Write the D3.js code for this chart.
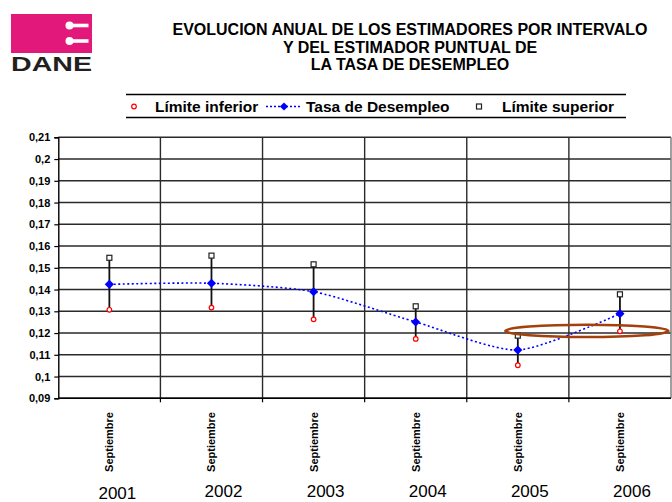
<!DOCTYPE html>
<html>
<head>
<meta charset="utf-8">
<script src="https://cdn.jsdelivr.net/npm/d3@7"></script>
<style>
  body { margin: 0; background: #fff; }
  svg { display: block; font-family: "Liberation Sans", Arial, sans-serif; }
</style>
</head>
<body>
<svg id="chart" width="672" height="502"></svg>
<script>
// DATA
const years = ["2001", "2002", "2003", "2004", "2005", "2006"];
const periodLabel = "Septiembre";
const lowerValues = [0.1307, 0.1317, 0.1263, 0.1173, 0.1052, 0.1208];
const rateValues  = [0.1424, 0.1429, 0.1390, 0.1251, 0.1122, 0.1289];
const upperValues = [0.1546, 0.1556, 0.1516, 0.1323, 0.1188, 0.1378];
const yTicks = [0.09, 0.1, 0.11, 0.12, 0.13, 0.14, 0.15, 0.16, 0.17, 0.18, 0.19, 0.2, 0.21];
const titleLines = [
  "EVOLUCION ANUAL DE LOS ESTIMADORES POR INTERVALO",
  "Y DEL ESTIMADOR PUNTUAL DE",
  "LA TASA DE DESEMPLEO"
];
const legendLabels = ["Límite inferior", "Tasa de Desempleo", "Límite superior"];

const rows = years.map((yr, i) => ({
  year: yr, lower: lowerValues[i], rate: rateValues[i], upper: upperValues[i]
}));

// SETUP
const svg = d3.select("#chart");
const plot = { left: 58.3, right: 671, top: 137.3, bottom: 398.3 };

const x = d3.scaleBand().domain(years).range([plot.left, plot.right]).padding(0);
const xc = d => x(d) + x.bandwidth() / 2;
const y = d3.scaleLinear().domain([0.09, 0.21]).range([plot.bottom, plot.top]);

const es = d3.formatLocale({ decimal: ",", thousands: ".", grouping: [3], currency: ["$", ""] });
const fmt = es.format(".2~f");

// LOGO
const logo = svg.append("g");
logo.append("rect").attr("x", 11).attr("y", 14).attr("width", 81).attr("height", 39).attr("fill", "#e2187b");
[25.5, 41].forEach(cy => {
  logo.append("circle").attr("cx", 69.5).attr("cy", cy).attr("r", 4).attr("fill", "#fff");
  logo.append("rect").attr("x", 69.5).attr("y", cy - 1.8).attr("width", 19).attr("height", 3.6).attr("fill", "#fff");
});
logo.append("text")
  .attr("x", 11).attr("y", 70.5)
  .attr("textLength", 81).attr("lengthAdjust", "spacingAndGlyphs")
  .attr("font-size", 21).attr("font-weight", "bold").attr("fill", "#231f20")
  .text("DANE");

// TITLE
svg.append("g").selectAll("text")
  .data(titleLines).join("text")
  .attr("x", 410).attr("y", (d, i) => 35 + i * 17.5)
  .attr("text-anchor", "middle")
  .attr("font-size", 16).attr("font-weight", "bold")
  .text(d => d);

// LEGEND
const legend = svg.append("g").attr("font-size", 15.5).attr("font-weight", "bold");
legend.append("line").attr("x1", 126).attr("x2", 626).attr("y1", 94.5).attr("y2", 94.5).attr("stroke", "#000").attr("stroke-width", 1.3);
legend.append("line").attr("x1", 126).attr("x2", 626).attr("y1", 117.5).attr("y2", 117.5).attr("stroke", "#000").attr("stroke-width", 1.3);
legend.append("circle").attr("cx", 134).attr("cy", 106.5).attr("r", 2.3)
  .attr("fill", "#fff").attr("stroke", "#ff0000").attr("stroke-width", 1.2);
legend.append("text").attr("x", 155).attr("y", 112).text(legendLabels[0]);
legend.append("line").attr("x1", 266).attr("x2", 302).attr("y1", 106.5).attr("y2", 106.5)
  .attr("stroke", "#0000ff").attr("stroke-width", 1.5).attr("stroke-dasharray", "2,2");
legend.append("path").attr("d", d3.symbol(d3.symbolSquare, 34)())
  .attr("transform", "translate(284,106.5) rotate(45)").attr("fill", "#0000ff");
legend.append("text").attr("x", 306).attr("y", 112).text(legendLabels[1]);
legend.append("rect").attr("x", 476.5).attr("y", 104).attr("width", 5).attr("height", 5)
  .attr("fill", "#fff").attr("stroke", "#222").attr("stroke-width", 1.2);
legend.append("text").attr("x", 502).attr("y", 112).text(legendLabels[2]);

// GRID
const grid = svg.append("g").attr("stroke", "#2a2a2a").attr("stroke-width", 1.4);
grid.selectAll(".h").data(yTicks).join("line")
  .attr("x1", plot.left).attr("x2", plot.right)
  .attr("y1", d => y(d)).attr("y2", d => y(d));
grid.selectAll(".v").data(years.slice(1)).join("line")
  .attr("x1", d => x(d)).attr("x2", d => x(d))
  .attr("y1", plot.top).attr("y2", plot.bottom);
grid.append("line").attr("x1", plot.right).attr("x2", plot.right)
  .attr("y1", plot.top).attr("y2", plot.bottom).attr("stroke", "#777");

// AXES
const yAxis = svg.append("g")
  .attr("transform", `translate(${plot.left},0)`)
  .call(d3.axisLeft(y).tickValues(yTicks).tickFormat(fmt).tickSize(4).tickPadding(4));
yAxis.select(".domain").attr("stroke", "#000").attr("stroke-width", 1.4);
yAxis.selectAll(".tick line").attr("stroke", "#000").attr("stroke-width", 1.2);
yAxis.selectAll("text").attr("font-size", 11).attr("font-weight", "bold").attr("fill", "#000")
  .attr("font-family", "'Liberation Sans', Arial, sans-serif");

const xTicks = svg.append("g");
xTicks.append("line").attr("x1", plot.left).attr("x2", plot.right)
  .attr("y1", plot.bottom).attr("y2", plot.bottom).attr("stroke", "#000").attr("stroke-width", 1.4);
xTicks.selectAll(".t").data(years.slice(1)).join("line")
  .attr("x1", d => x(d)).attr("x2", d => x(d))
  .attr("y1", plot.bottom).attr("y2", plot.bottom + 4).attr("stroke", "#000").attr("stroke-width", 1.2);

// Month labels (rotated)
svg.append("g").selectAll("text")
  .data(years).join("text")
  .attr("transform", d => `translate(${xc(d) + 4},${412}) rotate(-90)`)
  .attr("text-anchor", "end")
  .attr("font-size", 11).attr("font-weight", "bold")
  .text(periodLabel);

// Year labels
svg.append("g").selectAll("text")
  .data(years).join("text")
  .attr("x", (d, i) => xc(d) + (i === 0 ? 8 : 12))
  .attr("y", (d, i) => i === 0 ? 499 : 497)
  .attr("text-anchor", "middle")
  .attr("font-size", 17)
  .text(d => d);

// ERROR BARS
svg.append("g").selectAll("line")
  .data(rows).join("line")
  .attr("x1", d => xc(d.year)).attr("x2", d => xc(d.year))
  .attr("y1", d => y(d.upper)).attr("y2", d => y(d.lower))
  .attr("stroke", "#111").attr("stroke-width", 1.8);

// RATE LINE (smoothed, dotted)
const line = d3.line()
  .x(d => xc(d.year))
  .y(d => y(d.rate))
  .curve(d3.curveCardinal.tension(0.3));
svg.append("path")
  .datum(rows)
  .attr("d", line)
  .attr("fill", "none")
  .attr("stroke", "#0000ff")
  .attr("stroke-width", 1.6)
  .attr("stroke-dasharray", "2,2.5");

// MARKERS
svg.append("g").selectAll("rect")
  .data(rows).join("rect")
  .attr("x", d => xc(d.year) - 2.5).attr("y", d => y(d.upper) - 2.5)
  .attr("width", 5).attr("height", 5)
  .attr("fill", "#fff").attr("stroke", "#222").attr("stroke-width", 1.2);

svg.append("g").selectAll("circle")
  .data(rows).join("circle")
  .attr("cx", d => xc(d.year)).attr("cy", d => y(d.lower)).attr("r", 2.3)
  .attr("fill", "#fff").attr("stroke", "#ff0000").attr("stroke-width", 1.2);

svg.append("g").selectAll("path")
  .data(rows).join("path")
  .attr("d", d3.symbol(d3.symbolSquare, 42)())
  .attr("transform", d => `translate(${xc(d.year)},${y(d.rate)}) rotate(45)`)
  .attr("fill", "#0000ff");

// ANNOTATION ELLIPSE
svg.append("ellipse")
  .attr("cx", (xc("2005") + xc("2006")) / 2 + 18)
  .attr("cy", y(0.121))
  .attr("rx", 81.5).attr("ry", 6.2)
  .attr("fill", "none")
  .attr("stroke", "#a3400c")
  .attr("stroke-width", 2.6);
</script>
</body>
</html>
